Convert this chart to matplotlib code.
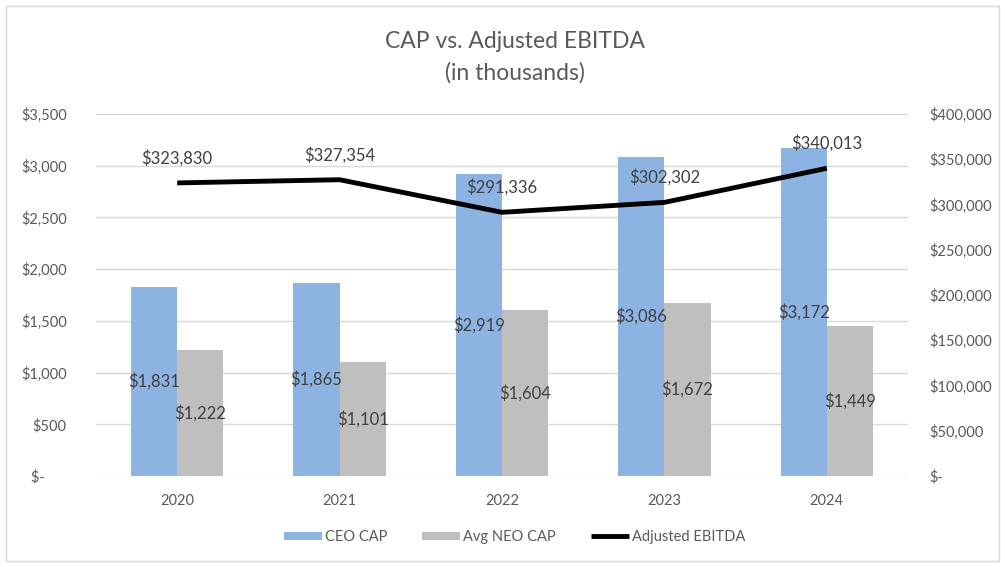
import matplotlib
matplotlib.use("Agg")
import matplotlib.pyplot as plt
from matplotlib.patches import Rectangle
from matplotlib.ticker import FuncFormatter
import numpy as np

years = ["2020", "2021", "2022", "2023", "2024"]
ceo_cap = [1831, 1865, 2919, 3086, 3172]
neo_cap = [1222, 1101, 1604, 1672, 1449]
ebitda = [323830, 327354, 291336, 302302, 340013]

plt.rcParams['font.family'] = ['Lato', 'DejaVu Sans']
TXT = '#595959'
LBL = '#404040'
BLUE = '#8DB3E2'
GRAY = '#BFBFBF'

fig = plt.figure(figsize=(10.05, 5.67), dpi=100)
ax = fig.add_axes([0.0955, 0.1605, 0.808, 0.6385])
ax2 = ax.twinx()

x = np.arange(len(years))
w = 0.285
b1 = ax.bar(x - w/2, ceo_cap, w, color=BLUE, label='CEO CAP', zorder=2)
b2 = ax.bar(x + w/2, neo_cap, w, color=GRAY, label='Avg NEO CAP', zorder=2)
ln, = ax2.plot(x, ebitda, color='black', lw=3.5, label='Adjusted EBITDA',
               solid_capstyle='butt', zorder=3)

ax.set_xlim(-0.5, len(years) - 0.5)
ax.set_ylim(0, 3500)
ax2.set_ylim(0, 400000)
ax.set_yticks(np.arange(0, 3501, 500))
ax2.set_yticks(np.arange(0, 400001, 50000))

def lfmt(v, p):
    return "$-      " if v == 0 else f"${v:,.0f}"
def rfmt(v, p):
    return "$-" if v == 0 else f"${v:,.0f}"
ax.yaxis.set_major_formatter(FuncFormatter(lfmt))
ax2.yaxis.set_major_formatter(FuncFormatter(rfmt))

ax.set_xticks(x)
ax.set_xticklabels(years)

for a in (ax, ax2):
    for s in a.spines.values():
        s.set_visible(False)
    a.tick_params(length=0, labelsize=10.5, labelcolor=TXT)
ax.tick_params(axis='y', pad=21)
ax2.tick_params(axis='y', pad=15)
ax.tick_params(axis='x', pad=13)
ax.grid(axis='y', color='#D9D9D9', lw=1, zorder=0)
ax.set_axisbelow(True)

for bars, vals in ((b1, ceo_cap), (b2, neo_cap)):
    for r, v in zip(bars, vals):
        ax.text(r.get_x() + r.get_width()/2, v/2, f"${v:,}", ha='center',
                va='center', fontsize=12, color=LBL, zorder=4)

for xi, v in zip(x, ebitda):
    ax2.annotate(f"${v:,}", (xi, v), xytext=(0, 18), textcoords='offset points',
                 ha='center', va='center', fontsize=12, color=LBL)

fig.text(0.512, 0.926, "CAP vs. Adjusted EBITDA", ha='center', va='center',
         fontsize=16.5, color=TXT)
fig.text(0.512, 0.871, "(in thousands)", ha='center', va='center',
         fontsize=16.5, color=TXT)

fig.legend(handles=[b1, b2, ln], loc='center', bbox_to_anchor=(0.512, 0.053),
           ncol=3, frameon=False, fontsize=10.5, labelcolor=TXT,
           handlelength=2.6, handleheight=0.5, columnspacing=2.4, handletextpad=0.2)

fig.patches.append(Rectangle((0.006, 0.01), 0.988, 0.98, transform=fig.transFigure,
                             fill=False, edgecolor='#D9D9D9', lw=1))

fig.savefig("out.png", dpi=100)
